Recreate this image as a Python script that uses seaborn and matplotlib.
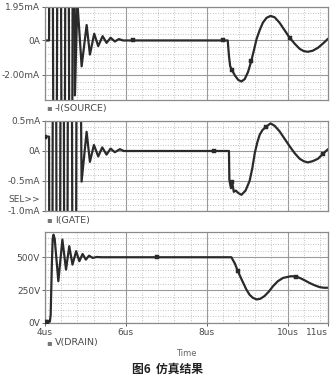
import numpy as np
import pandas as pd
import matplotlib
matplotlib.use("Agg")
import matplotlib.pyplot as plt
from matplotlib.ticker import MultipleLocator
import seaborn as sns

# ---------------- data ----------------
# -I(SOURCE), mA  (early swings run far beyond the plotted range)
t_source = [4.00, 4.10, 4.15, 4.247, 4.35, 4.45, 4.545, 4.64, 4.71, 4.74, 4.80,
            4.906, 5.03, 5.111, 5.217, 5.316, 5.425, 5.523, 5.622, 5.728, 5.827, 5.93,
            6.17, 8.40, 8.52, 8.55, 8.58, 8.63, 8.70, 8.78, 8.86, 8.94, 9.02, 9.10,
            9.17, 9.23, 9.31, 9.39, 9.48, 9.58, 9.68, 9.80, 9.92, 10.05, 10.18, 10.30,
            10.40, 10.50, 10.62, 10.75, 10.88, 11.00]
i_source = [0.0, 0.0, 40.0, -40.0, 40.0, -40.0, 40.0, -40.0, 30.0, -3.2, 2.3,
            -1.51, 0.90, -0.82, 0.39, -0.33, 0.25, -0.14, 0.16, -0.06, 0.08, 0.0,
            0.0, 0.0, 0.0, -0.9, -1.5, -1.75, -2.05, -2.3, -2.39, -2.25, -1.85, -1.22,
            -0.55, 0.06, 0.60, 1.04, 1.32, 1.43, 1.35, 1.04, 0.62, 0.16, -0.20, -0.49,
            -0.62, -0.66, -0.60, -0.43, -0.17, 0.10]
source_marks = [22, 23, 27, 33, 43]

# I(GATE), mA
t_gate = [4.00, 4.10, 4.148, 4.23, 4.33, 4.428, 4.51, 4.613, 4.727, 4.80,
          4.905, 5.029, 5.111, 5.21, 5.317, 5.416, 5.523, 5.621, 5.728, 5.852, 5.95,
          8.18, 8.55, 8.56, 8.60, 8.63, 8.67, 8.72, 8.78, 8.86, 8.96, 9.06, 9.13,
          9.19, 9.25, 9.31, 9.38, 9.46, 9.58, 9.68, 9.80, 9.93, 10.05, 10.18, 10.30,
          10.40, 10.50, 10.62, 10.75, 10.87, 11.00]
i_gate = [0.24, 0.24, -15.0, 15.0, -15.0, 15.0, -15.0, 15.0, -15.0, 8.0,
          -0.51, 0.32, -0.18, 0.10, -0.09, 0.06, -0.06, 0.04, -0.02, 0.03, 0.0,
          0.0, 0.0, -0.48, -0.62, -0.52, -0.68, -0.66, -0.70, -0.73, -0.66, -0.50, -0.28,
          -0.03, 0.14, 0.27, 0.35, 0.40, 0.46, 0.42, 0.33, 0.20, 0.08, -0.04, -0.13,
          -0.17, -0.19, -0.17, -0.13, -0.05, 0.03]
gate_marks = [0, 21, 25, 37, 49]

# V(DRAIN), V
t_drain = [4.00, 4.03, 4.06, 4.12, 4.14, 4.17, 4.19, 4.21, 4.24, 4.33, 4.43, 4.52,
           4.60, 4.68, 4.77, 4.85, 4.93, 5.01, 5.09, 5.18, 5.28, 5.40, 6.76, 8.61,
           8.70, 8.77, 8.88, 8.98, 9.06, 9.14, 9.24, 9.33, 9.43, 9.54, 9.64, 9.76,
           9.89, 10.09, 10.21, 10.30, 10.42, 10.54, 10.66, 10.79, 10.90, 11.00]
v_drain = [5, 5, 8, 10, 60, 450, 640, 672, 640, 318, 634, 406,
           584, 444, 546, 470, 525, 482, 512, 495, 502, 500, 500, 500,
           450, 394, 320, 255, 215, 192, 179, 185, 205, 240, 280, 318,
           343, 356, 353, 343, 325, 305, 288, 273, 268, 268]
drain_marks = [1, 2, 22, 25, 38]

x_ticks = [4, 6, 8, 10, 11]
x_tick_labels = ["4us", "6us", "8us", "10us", "11us"]
src_ticks = [1.95, 0.0, -2.0]
src_tick_labels = ["1.95mA", "0A", "-2.00mA"]
gate_ticks = [0.5, 0.0, -0.5, -1.0]
gate_tick_labels = ["0.5mA", "0A", "-0.5mA", "-1.0mA"]
drain_ticks = [0, 250, 500]
drain_tick_labels = ["0V", "250V", "500V"]
trace_names = ["-I(SOURCE)", "I(GATE)", "V(DRAIN)"]
x_title = "Time"
caption = "图6  仿真结果"

# ---------------- style ----------------
sns.set_theme(style="white")
plt.rcParams["font.family"] = ["DejaVu Sans", "Noto Sans CJK SC"]

LINE = "#2a2a2a"
FRAME = "#8a8a8a"
TXT = "#4a4a4a"

fig = plt.figure(figsize=(3.36, 3.79), dpi=100)
W, H = 336, 379
left, right = 45, 328
panels = [(7, 100), (121, 211), (232, 323)]
axes = [fig.add_axes([left / W, 1 - b / H, (right - left) / W, (b - t) / H]) for t, b in panels]

series = [
    (t_source, i_source, source_marks, (-3.47, 1.95), src_ticks, src_tick_labels, 0.4),
    (t_gate, i_gate, gate_marks, (-1.0, 0.5), gate_ticks, gate_tick_labels, 0.1),
    (t_drain, v_drain, drain_marks, (0, 692), drain_ticks, drain_tick_labels, 50),
]

for k, (ax, (t, v, marks, ylim, yt, ytl, ymin)) in enumerate(zip(axes, series)):
    df = pd.DataFrame({"t": t, "v": v})
    ax.set_xlim(4, 11)
    ax.set_ylim(*ylim)
    ax.xaxis.set_minor_locator(MultipleLocator(0.4))
    ax.yaxis.set_minor_locator(MultipleLocator(ymin))
    ax.grid(which="minor", color="#b0b0b0", linestyle=(0, (1, 2)), linewidth=0.6)
    ax.set_yticks(yt)
    ax.set_yticklabels(ytl)
    if k == 2:
        ax.set_xticks(x_ticks)
        ax.set_xticklabels(x_tick_labels)
        ax.get_xticklabels()[-1].set_ha("right")
    else:
        ax.set_xticks([6, 8, 10])
        ax.set_xticklabels([])
    ax.grid(which="major", color="#9a9a9a", linestyle="-", linewidth=0.8)
    ax.set_axisbelow(True)
    ax.tick_params(axis="both", which="major", labelsize=6.5, colors=TXT,
                   length=2, width=0.6, pad=1.5, left=True, bottom=(k == 2))
    ax.tick_params(which="minor", length=0)
    for s in ax.spines.values():
        s.set_color(FRAME)
        s.set_linewidth(0.9)
    sns.lineplot(data=df, x="t", y="v", ax=ax, color=LINE, linewidth=1.6,
                 estimator=None, sort=False)
    sns.scatterplot(data=df.iloc[marks], x="t", y="v", ax=ax, color=LINE,
                    marker="s", s=8, edgecolor=LINE, linewidth=0.3, zorder=5, clip_on=True)
    ax.set_xlabel("")
    ax.set_ylabel("")

# trace labels
label_y = [108, 220, 343]
for name, y in zip(trace_names, label_y):
    fig.text(49 / W, 1 - y / H, "\u25aa", fontsize=6, color="#777777", va="center", ha="center")
    fig.text(55 / W, 1 - y / H, name, fontsize=6.8, color=TXT, va="center", ha="left")

fig.text(40 / W, 1 - 200 / H, "SEL>>", fontsize=6.5, color=TXT, va="center", ha="right")
fig.text(186 / W, 1 - 353 / H, x_title, fontsize=6, color="#666666", va="center", ha="center")
fig.text(168 / W, 1 - 369 / H, caption, fontsize=8.5, color="#222222", va="center",
         ha="center", family=["Noto Sans CJK SC", "DejaVu Sans"], fontweight="bold")

fig.savefig("out.png", dpi=100)
